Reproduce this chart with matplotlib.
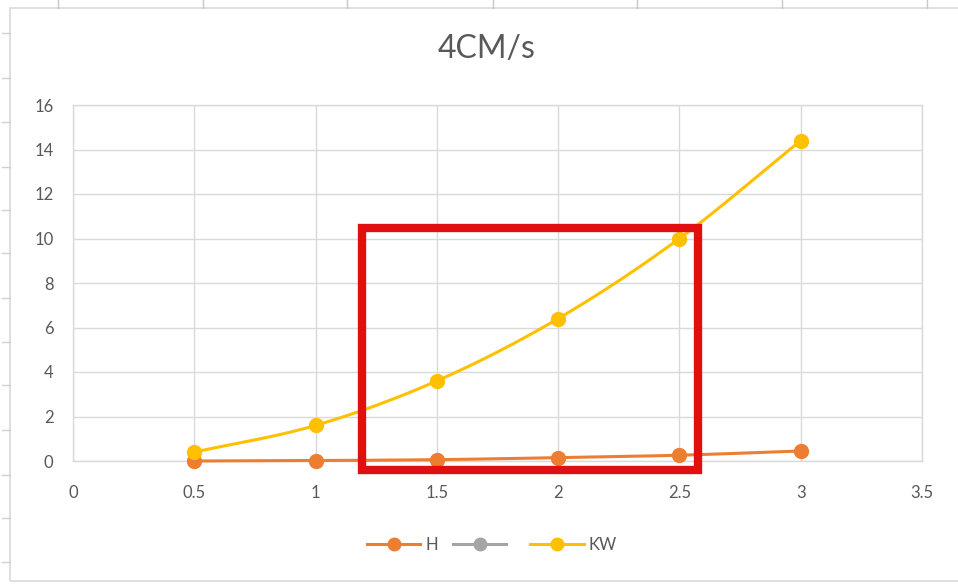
import numpy as np
import matplotlib
matplotlib.use("Agg")
import matplotlib.pyplot as plt
from matplotlib.lines import Line2D
from matplotlib.patches import Rectangle

# Flow speed and measured series
speed = [0.5, 1.0, 1.5, 2.0, 2.5, 3.0]
h_vals = [0.0, 0.02, 0.06, 0.15, 0.26, 0.45]
blank_vals = [np.nan] * 6
kw_vals = [0.4, 1.6, 3.6, 6.4, 10.0, 14.4]

title = "4CM/s"
x_ticks = [0, 0.5, 1, 1.5, 2, 2.5, 3, 3.5]
x_tick_labels = ["0", "0.5", "1", "1.5", "2", "2.5", "3", "3.5"]
y_ticks = [0, 2, 4, 6, 8, 10, 12, 14, 16]

C_H = "#ED7D31"
C_GRAY = "#A5A5A5"
C_KW = "#FFC000"
TXT = "#595959"
GRID = "#D9D9D9"

plt.rcParams["font.family"] = ["Lato", "DejaVu Sans"]


def smooth(xs, ys, n=30):
    """Catmull-Rom spline through the points (smoothed line style)."""
    xs = np.asarray(xs, float)
    ys = np.asarray(ys, float)
    px = np.concatenate([[2 * xs[0] - xs[1]], xs, [2 * xs[-1] - xs[-2]]])
    py = np.concatenate([[2 * ys[0] - ys[1]], ys, [2 * ys[-1] - ys[-2]]])
    ox, oy = [], []
    t = np.linspace(0, 1, n)
    for i in range(1, len(px) - 2):
        for arr, out in ((px, ox), (py, oy)):
            p0, p1, p2, p3 = arr[i - 1], arr[i], arr[i + 1], arr[i + 2]
            out.extend(0.5 * ((2 * p1) + (-p0 + p2) * t
                              + (2 * p0 - 5 * p1 + 4 * p2 - p3) * t ** 2
                              + (-p0 + 3 * p1 - 3 * p2 + p3) * t ** 3))
    return np.array(ox), np.array(oy)


W, H = 958, 584
fig = plt.figure(figsize=(W / 100, H / 100), dpi=100)
fig.patch.set_facecolor("white")

# spreadsheet cell edges peeking around the chart frame
for x in [58, 203, 347, 493, 637, 782, 927]:
    fig.add_artist(Line2D([x / W, x / W], [1, 1 - 8 / H], transform=fig.transFigure,
                          color="#C8C8C8", lw=1))
for y in [33, 78, 122, 167, 210, 253, 298, 342, 385, 430, 475, 518, 562]:
    fig.add_artist(Line2D([2 / W, 10 / W], [1 - y / H, 1 - y / H], transform=fig.transFigure,
                          color="#D0D0D0", lw=1))
# chart frame
fig.add_artist(Rectangle((10 / W, 1 - 581 / H), 960 / W, (581 - 8) / H,
                         transform=fig.transFigure, fill=False, edgecolor=GRID, lw=1.2))

ax = fig.add_axes([73 / W, 1 - 461 / H, (922 - 73) / W, (461 - 105) / H])
ax.set_xlim(0, 3.5)
ax.set_ylim(0, 16)
ax.set_xticks(x_ticks)
ax.set_xticklabels(x_tick_labels)
ax.set_yticks(y_ticks)
ax.grid(True, color=GRID, lw=1)
ax.set_axisbelow(True)
for s in ax.spines.values():
    s.set_color(GRID)
    s.set_linewidth(1)
ax.tick_params(length=0, labelsize=12, labelcolor=TXT)
ax.tick_params(axis="x", pad=17)
ax.tick_params(axis="y", pad=14)

for vals, col in ((h_vals, C_H), (kw_vals, C_KW)):
    sx, sy = smooth(speed, vals)
    ax.plot(sx, sy, color=col, lw=2.2, solid_capstyle="round", clip_on=False, zorder=3)
    ax.plot(speed, vals, "o", color=col, ms=10, clip_on=False, zorder=4)
ax.plot(speed, blank_vals, color=C_GRAY, lw=2.2)

fig.text(487 / W, 1 - 49 / H, title, ha="center", va="center", fontsize=23, color=TXT)

handles = [
    Line2D([], [], color=C_H, lw=2.2, marker="o", ms=9),
    Line2D([], [], color=C_GRAY, lw=2.2, marker="o", ms=9),
    Line2D([], [], color=C_KW, lw=2.2, marker="o", ms=9),
]
fig.legend(handles, ["H", " ", "KW"], loc="center", bbox_to_anchor=(492 / W, 1 - 545 / H),
           ncol=3, frameon=False, handlelength=3.2, handletextpad=0.3, columnspacing=0.9,
           fontsize=12, labelcolor=TXT)

# highlight box
fig.add_artist(Rectangle((362 / W, 1 - 470 / H), (698 - 362) / W, (470 - 228) / H,
                         transform=fig.transFigure, fill=False, edgecolor="#E01010", lw=6,
                         joinstyle="miter", zorder=10))

fig.savefig("out.png", dpi=100)
